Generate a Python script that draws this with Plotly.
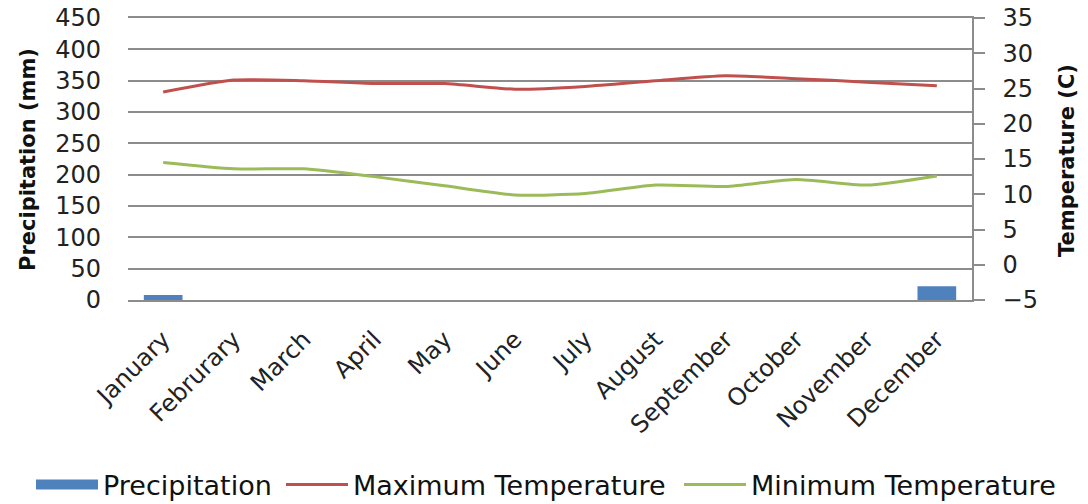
import plotly.graph_objects as go

months = ["January", "Februrary", "March", "April", "May", "June", "July",
          "August", "September", "October", "November", "December"]
precip_mm = [8, 0, 0, 0, 0, 0, 0, 0, 0, 0, 0, 22]
max_temp_c = [24.5, 26.2, 26.1, 25.7, 25.7, 24.9, 25.3, 26.1, 26.8, 26.4, 25.9, 25.4]
min_temp_c = [14.5, 13.6, 13.6, 12.5, 11.2, 9.9, 10.1, 11.3, 11.1, 12.1, 11.3, 12.6]

left_ticks = list(range(0, 451, 50))
right_ticks = list(range(-5, 36, 5))

BLUE, RED, GREEN = "#4f81bd", "#c0504d", "#9bbb59"
GRID = "#8c8c8c"
FONT = "DejaVu Sans"

fig = go.Figure()
fig.add_trace(go.Bar(x=months, y=precip_mm, name="Precipitation", showlegend=False,
                     marker=dict(color=BLUE, line=dict(width=0)), width=0.55))
# legend entry for the bars, drawn as a wide block like the reference
fig.add_trace(go.Scatter(x=[None], y=[None], name="Precipitation", mode="lines",
                         line=dict(color=BLUE, width=18), legend="legend"))
fig.add_trace(go.Scatter(x=months, y=max_temp_c, name="Maximum Temperature", yaxis="y2",
                         mode="lines", legend="legend2",
                         line=dict(color=RED, width=3, shape="spline", smoothing=0.6)))
fig.add_trace(go.Scatter(x=months, y=min_temp_c, name="Minimum Temperature", yaxis="y2",
                         mode="lines", legend="legend3",
                         line=dict(color=GREEN, width=3, shape="spline", smoothing=0.6)))

tickfont = dict(family=FONT, size=24, color="#222222")


def legend_at(page_x):
    return dict(orientation="h", xref="container", yref="container",
                x=(page_x - 8) / 1080, xanchor="left", y=1 - 477 / 496, yanchor="middle",
                font=dict(family=FONT, size=27, color="#111111"),
                itemwidth=62, bgcolor="rgba(0,0,0,0)")


fig.update_layout(
    width=1080, height=496,
    margin=dict(l=120, r=116, t=10, b=204, autoexpand=False),
    plot_bgcolor="white", paper_bgcolor="white",
    showlegend=True,
    legend=legend_at(31),
    legend2=legend_at(281),
    legend3=legend_at(679),
    xaxis=dict(tickangle=-45, tickfont=dict(family=FONT, size=24, color="#222222"),
               showgrid=False, showline=True, mirror=True, linecolor=GRID, linewidth=1.5,
               ticks="outside", ticklen=14, tickcolor="rgba(0,0,0,0)", automargin=False),
    yaxis=dict(range=[0, 450], tickvals=left_ticks, showgrid=True, gridcolor=GRID,
               gridwidth=1.5, zeroline=False, showline=False, ticks="",
               ticklabelstandoff=26, ticklabeloverflow="allow",
               tickfont=tickfont, automargin=False),
    yaxis2=dict(range=[-5, 35], tickvals=right_ticks, overlaying="y", side="right",
                showgrid=False, zeroline=False, showline=True, linecolor=GRID, linewidth=1.5,
                ticks="outside", ticklen=11, tickcolor=GRID, tickwidth=1.5,
                ticklabelstandoff=13, ticklabeloverflow="allow",
                tickfont=tickfont, automargin=False),
    annotations=[
        dict(text="<b>Precipitation (mm)</b>", xref="paper", yref="paper",
             x=(28 - 128) / 844, y=(300 - 160) / 282, textangle=-90, showarrow=False,
             xanchor="center", yanchor="middle",
             font=dict(family=FONT, size=21, color="#111111")),
        dict(text="<b>Temperature (C)</b>", xref="paper", yref="paper",
             x=(1067 - 128) / 844, y=(300 - 161) / 282, textangle=-90, showarrow=False,
             xanchor="center", yanchor="middle",
             font=dict(family=FONT, size=21, color="#111111")),
    ],
)
fig.write_html("out.html")
